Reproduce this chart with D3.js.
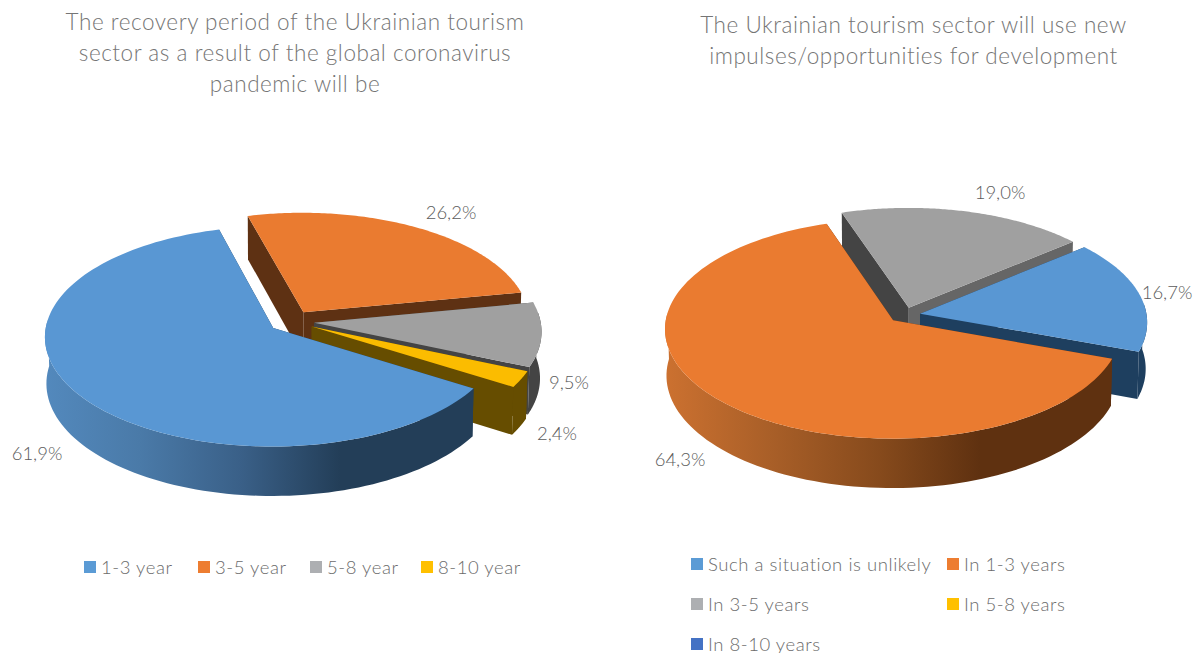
<!DOCTYPE html>
<html>
<head>
<meta charset="utf-8">
<script src="https://cdn.jsdelivr.net/npm/d3@7"></script>
<style>
  html, body { margin: 0; padding: 0; background: #fff; }
  text { font-family: Lato, "Open Sans", sans-serif; font-weight: 300; }
</style>
</head>
<body>
<svg id="chart" width="1199" height="653"></svg>
<script>
// values
var leftTitle = ["The recovery period of the Ukrainian tourism", "sector as a result of the global coronavirus", "pandemic will be"];
var leftCategories = ["1-3 year", "3-5 year", "5-8 year", "8-10 year"];
var leftValues = [61.9, 26.2, 9.5, 2.4];
var leftLabels = ["61,9%", "26,2%", "9,5%", "2,4%"];

var rightTitle = ["The Ukrainian tourism sector will use new", "impulses/opportunities for development"];
var rightCategories = ["Such a situation is unlikely", "In 1-3 years", "In 3-5 years", "In 5-8 years", "In 8-10 years"];
var rightValues = [16.7, 64.3, 19.0, 0, 0];
var rightLabels = ["16,7%", "64,3%", "19,0%", "", ""];

var svg = d3.select("#chart");
var defs = svg.append("defs");

// perspective of the pie plane
var a = 226.5, b = 108.5, persp = 0.076, depth = 46.5, shrink = 0.006;

var faces = {
  blue:   { top: "#5997d3", cutA: "#213d57", cutB: "#213d57" },
  orange: { top: "#ea7b30", cutA: "#5e3113", cutB: "#5e3113" },
  grey:   { top: "#a0a0a0", cutA: "#444444", cutB: "#444444" },
  yellow: { top: "#fbbc00", cutA: "#664d00", cutB: "#664d00" }
};

function Pie3d(opt) {
  var self = this;
  this.opt = opt;
  this.g = svg.append("g");

  this.project = function (u, v, z) {
    var w = 1 - persp * v + shrink * z;
    return [opt.cx + a * u / w, opt.cy + (b * v + depth * z) / w];
  };

  var line = d3.line();
  var arcs = d3.pie().sort(null).value(function (d) { return d.value; })
    .startAngle(opt.rotate * Math.PI / 180)
    .endAngle(opt.rotate * Math.PI / 180 + 2 * Math.PI)(opt.slices)
    .filter(function (d) { return d.value > 0; });

  arcs.forEach(function (d) {
    var mid = (d.startAngle + d.endAngle) / 2;
    d.ox = opt.explode * Math.sin(mid);
    d.oy = -opt.explode * Math.cos(mid);
  });
  arcs.sort(function (p, q) { return p.oy - q.oy; });  // back to front

  arcs.forEach(function (d) {
    var s = d.data;
    var angles = d3.range(0, 121).map(function (i) {
      return d.startAngle + (d.endAngle - d.startAngle) * i / 120;
    });
    // only the part of the rim that faces the viewer
    var front = angles.filter(function (t) { return -Math.cos(t) > -0.1; });
    var edge = function (list, z) {
      return list.map(function (t) {
        return self.project(d.ox + Math.sin(t), d.oy - Math.cos(t), z);
      });
    };
    var apex = function (z) { return self.project(d.ox, d.oy, z); };
    var wall = function (t) {
      var u = d.ox + Math.sin(t), v = d.oy - Math.cos(t);
      return [apex(0), self.project(u, v, 0), self.project(u, v, 1), apex(1)];
    };
    var slice = self.g.append("g");
    slice.append("path").attr("d", line(wall(d.startAngle)) + "Z").attr("fill", s.face.cutA);
    slice.append("path").attr("d", line(wall(d.endAngle)) + "Z").attr("fill", s.face.cutB);
    if (front.length > 1) {
      slice.append("path")
        .attr("d", line(edge(front, 0).concat(edge(front, 1).reverse())) + "Z")
        .attr("fill", s.rim || s.face.cutA);
    }
    slice.append("path")
      .attr("d", line([apex(0)].concat(edge(angles, 0))) + "Z")
      .attr("fill", s.face.top);
  });

  // title
  this.g.append("g").selectAll("text").data(opt.title).join("text")
    .attr("x", opt.titleX)
    .attr("y", function (d, i) { return opt.titleY + i * 31; })
    .attr("text-anchor", "middle")
    .attr("font-size", 22.5)
    .attr("letter-spacing", 0.55)
    .attr("fill", "#757575")
    .text(function (d) { return d; });

  // data labels
  this.g.append("g").selectAll("text").data(opt.labelPos).join("text")
    .attr("x", function (d) { return d[0]; })
    .attr("y", function (d) { return d[1]; })
    .attr("text-anchor", "middle")
    .attr("font-size", 18.5)
    .attr("fill", "#5c5c5c")
    .text(function (d, i) { return opt.labels[i]; });

  // legend
  var items = this.g.append("g").selectAll("g").data(opt.legend).join("g")
    .attr("transform", function (d) { return "translate(" + d.x + "," + d.y + ")"; });
  items.append("rect").attr("x", 0).attr("y", -6).attr("width", 12).attr("height", 12)
    .attr("fill", function (d) { return d.color; });
  items.append("text").attr("x", 17).attr("y", 6.5)
    .attr("font-size", 18.5).attr("letter-spacing", 0.55).attr("fill", "#6b6b6b")
    .text(function (d) { return d.name; });
}

function rimGradient(id, stops) {
  var grad = defs.append("linearGradient").attr("id", id)
    .attr("gradientUnits", "userSpaceOnUse")
    .attr("x1", stops[0][0]).attr("x2", stops[stops.length - 1][0])
    .attr("y1", 0).attr("y2", 0);
  var span = stops[stops.length - 1][0] - stops[0][0];
  stops.forEach(function (s) {
    grad.append("stop").attr("offset", (s[0] - stops[0][0]) / span).attr("stop-color", s[1]);
  });
}
rimGradient("rimBlue", [[44, "#5389bd"], [140, "#4a7aa8"], [240, "#3a6088"], [340, "#233e58"], [480, "#233e58"]]);
rimGradient("rimOrange", [[665, "#cc7130"], [770, "#a95f28"], [880, "#864a1c"], [980, "#5f3110"], [1115, "#5f3110"]]);

var legendLeftColors = ["#5b9bd5", "#ed7d31", "#adafb2", "#ffc000"];
var legendRightColors = ["#5b9bd5", "#ed7d31", "#adafb2", "#ffc000", "#4472c4"];
var leftLegendX = [84, 198, 310, 421];
var rightLegendX = [691, 947, 691, 947, 691];
var rightLegendY = [564, 564, 604, 604, 644];

new Pie3d({
  cx: 291.5, cy: 321.5, rotate: 122, explode: 0.1,
  title: leftTitle, titleX: 295, titleY: 30,
  labels: leftLabels,
  labelPos: [[37, 460], [451, 219], [569, 389], [557, 440]],
  slices: [
    { value: leftValues[0], face: faces.blue, rim: "url(#rimBlue)" },
    { value: leftValues[1], face: faces.orange },
    { value: leftValues[2], face: faces.grey },
    { value: leftValues[3], face: faces.yellow }
  ],
  legend: leftCategories.map(function (c, i) {
    return { name: c, color: legendLeftColors[i], x: leftLegendX[i], y: 567 };
  })
});

new Pie3d({
  cx: 904.5, cy: 315, rotate: 49.9, explode: 0.07,
  title: rightTitle, titleX: 913.5, titleY: 33,
  labels: rightLabels.slice(0, 3),
  labelPos: [[1167, 299], [680, 466], [1000, 199]],
  slices: [
    { value: rightValues[0], face: { top: "#5997d3", cutA: "#1e3f5f", cutB: "#1e3f5f" } },
    { value: rightValues[1], face: faces.orange, rim: "url(#rimOrange)" },
    { value: rightValues[2], face: { top: "#a0a0a0", cutA: "#444444", cutB: "#666666" } },
    { value: rightValues[3], face: faces.yellow },
    { value: rightValues[4], face: faces.blue }
  ],
  legend: rightCategories.map(function (c, i) {
    return { name: c, color: legendRightColors[i], x: rightLegendX[i], y: rightLegendY[i] };
  })
});
</script>
</body>
</html>
